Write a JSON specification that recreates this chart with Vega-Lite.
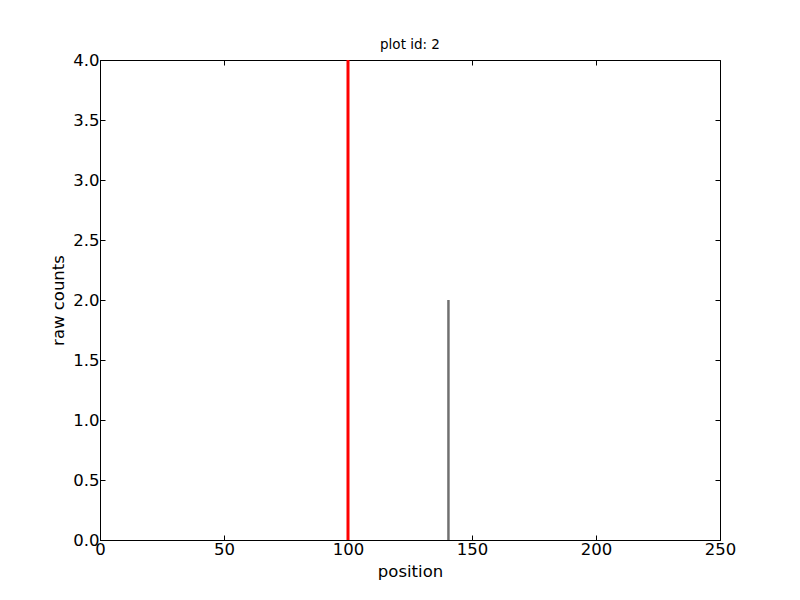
{
  "$schema": "https://vega.github.io/schema/vega-lite/v6.json",
  "width": 620,
  "height": 480,
  "autosize": {"type": "none"},
  "padding": {"left": 100, "top": 60, "right": 80, "bottom": 60},
  "background": "white",
  "title": {"text": "plot id: 2", "font": "DejaVu Sans", "fontSize": 13.5, "fontWeight": "normal", "color": "black", "offset": 1},
  "config": {
    "view": {"stroke": "black", "strokeWidth": 1},
    "axis": {
      "labelFont": "DejaVu Sans", "labelFontSize": 16.5, "labelColor": "black",
      "titleFont": "DejaVu Sans", "titleFontSize": 16.5, "titleFontWeight": "normal", "titleColor": "black",
      "grid": false, "domainColor": "black", "tickColor": "black", "tickSize": -5, "labelPadding": 6,
      "labelFlush": false, "labelOverlap": false
    }
  },
  "datasets": {
    "peak": [{"position": 100, "count": 4}],
    "counts": [{"position": 140, "position_end": 141, "count": 2}]
  },
  "layer": [
    {
      "data": {"name": "counts"},
      "mark": {"type": "rect", "color": "#707070"},
      "encoding": {
        "x": {"field": "position", "type": "quantitative", "scale": {"domain": [0, 250], "nice": false, "padding": 0}, "axis": {"title": "position", "values": [0, 50, 100, 150, 200, 250], "titlePadding": 6}},
        "x2": {"field": "position_end"},
        "y": {"field": "count", "type": "quantitative", "scale": {"domain": [0, 4], "nice": false, "padding": 0}, "axis": {"title": "raw counts", "values": [0, 0.5, 1, 1.5, 2, 2.5, 3, 3.5, 4], "format": ".1f", "titlePadding": 6}},
        "y2": {"datum": 0}
      }
    },
    {
      "data": {"name": "peak"},
      "mark": {"type": "bar", "color": "#ff0000", "width": 3},
      "encoding": {
        "x": {"field": "position", "type": "quantitative", "axis": {"orient": "top", "labels": false, "domain": false, "title": null, "values": [0, 50, 100, 150, 200, 250]}},
        "y": {"field": "count", "type": "quantitative", "axis": {"orient": "right", "labels": false, "domain": false, "title": null, "values": [0, 0.5, 1, 1.5, 2, 2.5, 3, 3.5, 4]}}
      }
    }
  ],
  "resolve": {"axis": {"x": "independent", "y": "independent"}}
}
